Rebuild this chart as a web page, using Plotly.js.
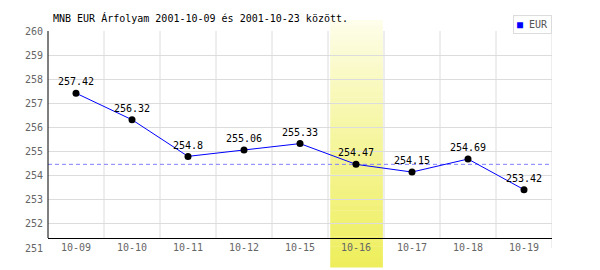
<!DOCTYPE html>
<html>
<head>
<meta charset="utf-8">
<script src="https://cdn.plot.ly/plotly-3.0.1.min.js"></script>
<style>html,body{margin:0;padding:0;background:#fff;}#chart{width:600px;height:270px;}</style>
</head>
<body>
<div id="chart"></div>
<script>
const dates = ['10-09','10-10','10-11','10-12','10-15','10-16','10-17','10-18','10-19'];
const rates = [257.42, 256.32, 254.8, 255.06, 255.33, 254.47, 254.15, 254.69, 253.42];
const rateLabels = ['257.42','256.32','254.8','255.06','255.33','254.47','254.15','254.69','253.42'];
const yTicks = [251, 252, 253, 254, 255, 256, 257, 258, 259, 260];
const highlightIndex = 5;
const seriesName = 'EUR';
const seriesColor = '#0000ff';
const titleText = 'MNB EUR Árfolyam 2001-10-09 és 2001-10-23 között.';

const W = 600, H = 270;
const L = 48, R = 48, T = 31, B = 22;
const plotH = H - T - B; // 217
const pxToPaperY = py => (H - B - py) / plotH;
const axisY = pxToPaperY(238);
const mono = 'DejaVu Sans Mono, monospace';

const shapes = [];
// vertical grid lines at category boundaries
for (let k = 1; k <= dates.length; k++) {
  shapes.push({type:'line', layer:'below', xref:'x', yref:'paper',
    x0:k-0.5, x1:k-0.5, y0:(k === dates.length ? 0 : axisY), y1:1,
    line:{color:'#dcdcdc', width:1}});
}
// highlight band with vertical gradient
const N = 48, yTop = pxToPaperY(20), yBot = pxToPaperY(267);
const c0 = [254,254,238], c1 = [238,238,92];
for (let i = 0; i < N; i++) {
  const t = Math.pow((i + 0.5) / N, 0.85);
  const c = c0.map((v, j) => Math.round(v + (c1[j] - v) * t));
  const a = yTop - (yTop - yBot) * i / N;
  const b = yTop - (yTop - yBot) * (i + 1) / N;
  shapes.push({type:'rect', layer:'between', xref:'x', yref:'paper',
    x0:highlightIndex-0.46, x1:highlightIndex+0.48, y0:b-0.002, y1:a,
    fillcolor:'rgb(' + c.join(',') + ')', line:{width:0}});
}
// reference dashed line at highlighted day's value
shapes.push({type:'line', layer:'between', xref:'paper', yref:'y',
  x0:0, x1:1, y0:rates[highlightIndex], y1:rates[highlightIndex],
  line:{color:'#8080ff', width:1, dash:'4px,3px'}});
// left axis line
shapes.push({type:'line', layer:'above', xref:'paper', yref:'paper',
  x0:0, x1:0, y0:axisY, y1:1, line:{color:'#000', width:1}});

const traces = [
  {x:dates, y:rates, text:rateLabels, type:'scatter', mode:'lines+markers+text', name:seriesName,
   line:{color:seriesColor, width:1}, marker:{color:'#000', size:7},
   textposition:'top center', textfont:{family:mono, size:10, color:'#000'},
   cliponaxis:false, showlegend:false, hoverinfo:'skip'}
];

const layout = {
  width:W, height:H,
  margin:{l:L, r:R, t:T, b:B, pad:0},
  paper_bgcolor:'#fff', plot_bgcolor:'#fff',
  title:{text:titleText, x:53/W, xanchor:'left', xref:'container',
    y:1 - 18/H, yanchor:'middle', yref:'container',
    font:{family:mono, size:10, color:'#000'}},
  xaxis:{type:'category', range:[-0.5, dates.length-0.5], anchor:'free', position:axisY,
    showgrid:false, zeroline:false, showline:true, linecolor:'#000', linewidth:1,
    ticks:'', tickfont:{family:mono, size:10, color:'#666'}, fixedrange:true},
  yaxis:{range:[yTicks[0], yTicks[yTicks.length-1]], tickvals:yTicks, ticktext:yTicks.map(String),
    showgrid:true, gridcolor:'#dcdcdc', gridwidth:1, zeroline:false, showline:false,
    ticks:'', ticklabelstandoff:4, tickfont:{family:mono, size:10, color:'#666'}, fixedrange:true},
  showlegend:false,
  annotations:[{
    xref:'paper', yref:'paper', x:1, xanchor:'right', y:pxToPaperY(15), yanchor:'top',
    text:'<span style="color:' + seriesColor + '">\u25A0</span> ' + seriesName,
    showarrow:false, align:'left', bgcolor:'#fff', bordercolor:'#dcdcdc', borderwidth:1, borderpad:3,
    font:{family:mono, size:10, color:'#555'}
  }],
  shapes:shapes
};

Plotly.newPlot('chart', traces, layout, {staticPlot:true, displayModeBar:false});
</script>
</body>
</html>
